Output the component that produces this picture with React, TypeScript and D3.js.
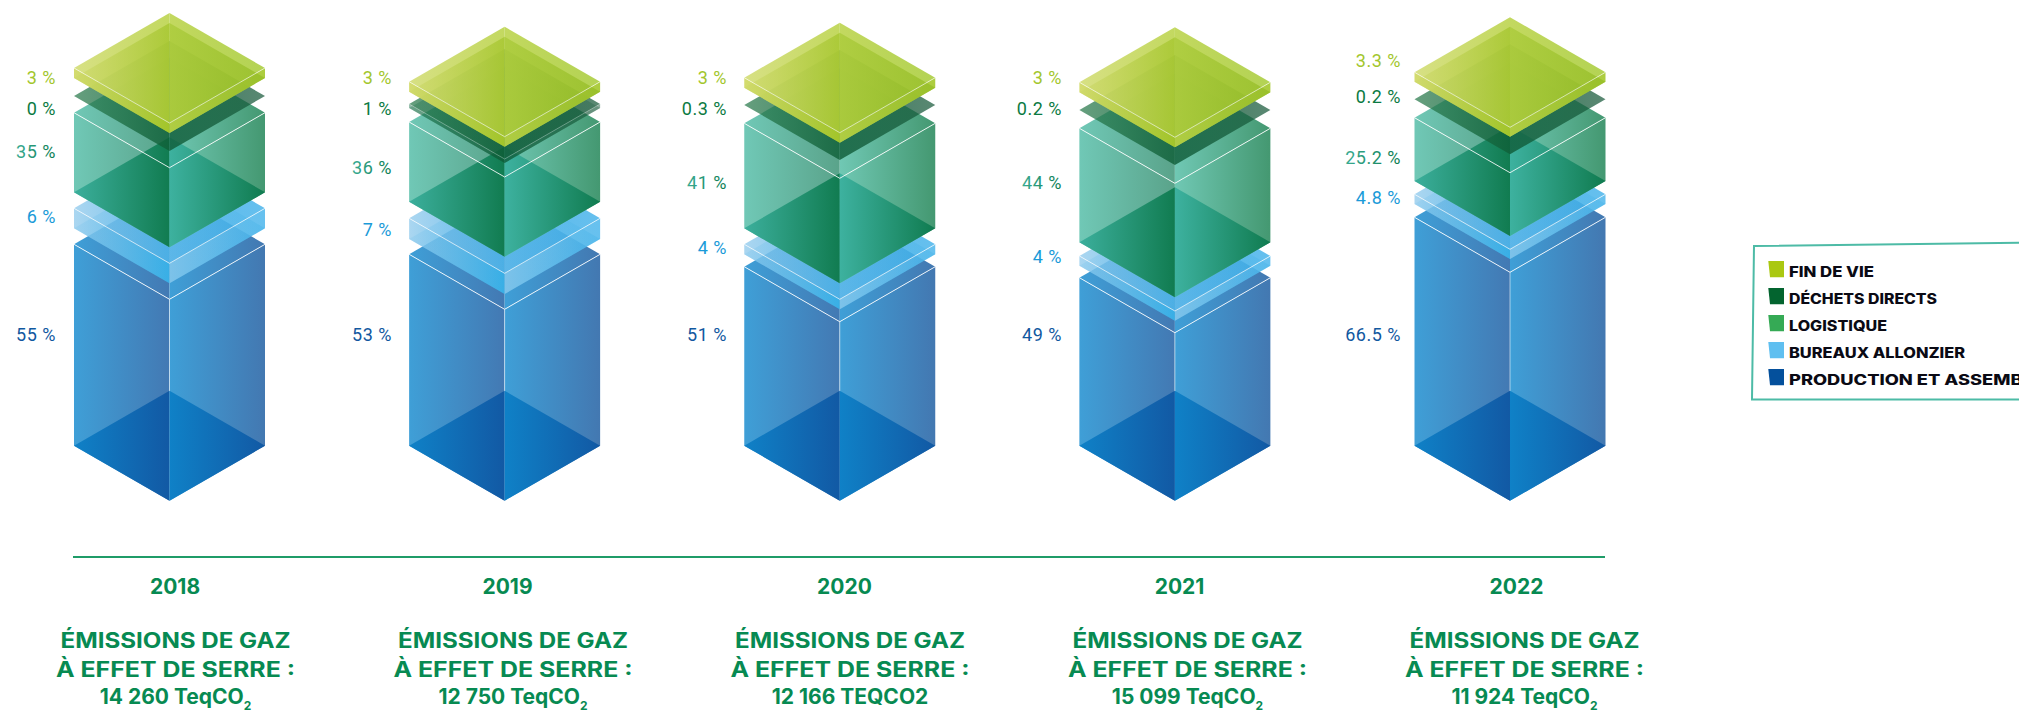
import React from "react";
import * as d3 from "d3";

// ---------- data ----------
const years = ["2018", "2019", "2020", "2021", "2022"];
const totals = ["14 260 TeqCO", "12 750 TeqCO", "12 166 TEQCO2", "15 099 TeqCO", "11 924 TeqCO"];
const hasSub = [true, true, false, true, true];

const limeLabels = ["3 %", "3 %", "3 %", "3 %", "3.3 %"];
const darkLabels = ["0 %", "1 %", "0.3 %", "0.2 %", "0.2 %"];
const greenLabels = ["35 %", "36 %", "41 %", "44 %", "25.2 %"];
const lightLabels = ["6 %", "7 %", "4 %", "4 %", "4.8 %"];
const blueLabels = ["55 %", "53 %", "51 %", "49 %", "66.5 %"];

// drawn elevation of each slab above the floor of the column
const blueBase = [0, 0, 0, 0, 0];
const blueTop = [201.4, 191.4, 179, 168, 228.4];
const lightBase = [217.4, 206.7, 191.4, 180, 241.7];
const lightTop = [237.4, 227.4, 201.4, 189.7, 251.4];
const greenBase = [253.4, 244, 217.4, 203.4, 264.7];
const greenTop = [333, 323.7, 322.4, 317.4, 328];
const darkBase = [349.7, 337.7, 340.7, 335.7, 346.4];
const darkTop = [349.7, 341.7, 340.7, 335.7, 346.4];
const limeBase = [367.7, 354, 358, 353.4, 364];
const limeTop = [377.7, 364, 368, 363.4, 373.4];

const legendNames = ["FIN DE VIE", "DÉCHETS DIRECTS", "LOGISTIQUE", "BUREAUX ALLONZIER", "PRODUCTION ET ASSEMBLAGE"];
const legendColors = ["#aac811", "#03642f", "#35aa55", "#5fbff0", "#04509c"];
const legendWidths = [85, 148, 98, 176, 282];

// ---------- layout ----------
const W = 2019, H = 712;
const floorY = 445.7;
const halfW = 95.5, rise = 55;
const x = d3.scalePoint<string>().domain(years).range([169.5, 1510]);
const y = d3.scaleLinear().domain([0, floorY]).range([floorY, 0]);
const line = d3.line<[number, number]>();

const labelRight = [56, 392, 727, 1062, 1401];
const limeLabelY = [83.5, 84, 84, 84, 66.7];
const darkLabelY = [115, 115, 115, 115, 103];
const greenLabelY = [158, 173.7, 189, 189, 164];
const lightLabelY = [223, 236, 254, 263, 204];
const blueLabelY = [341, 341, 341, 341, 341];
const yearX = [175, 507.5, 844.5, 1179.5, 1516.5];
const textX = [175.5, 513, 850, 1187.5, 1524.5];

type Stop = [string, number];
type Skin = {
  id: string;
  topL: [Stop, Stop]; topR: [Stop, Stop];
  wallL: [Stop, Stop]; wallR: [Stop, Stop];
  floorL: [Stop, Stop]; floorR: [Stop, Stop];
  edge: number; spine: number;
};

const skins: Skin[] = [
  {
    id: "blue",
    topL: [["#3f9fd7", 1], ["#4379b3", 1]], topR: [["#3f9fd7", 1], ["#4378b1", 1]],
    wallL: [["#3f9fd7", 1], ["#4379b3", 1]], wallR: [["#3f9fd7", 1], ["#4378b1", 1]],
    floorL: [["#0f81c7", 1], ["#1259a4", 1]], floorR: [["#0f81c7", 1], ["#1259a4", 1]],
    edge: 0.85, spine: 0.55,
  },
  {
    id: "light",
    topL: [["#8fc9ec", 0.75], ["#56b4e8", 0.92]], topR: [["#4fb2e8", 0.92], ["#3fb0ea", 0.8]],
    wallL: [["#8fc9ec", 0.75], ["#38afe6", 1]], wallR: [["#7cc1e8", 1], ["#4cb6ec", 0.85]],
    floorL: [["#7fc5ec", 0.3], ["#38aee6", 0.3]], floorR: [["#7fc5ec", 0.3], ["#38aee6", 0.3]],
    edge: 0.7, spine: 0,
  },
  {
    id: "green",
    topL: [["#70c8b6", 1], ["#5aa38a", 1]], topR: [["#70c8b4", 1], ["#449871", 1]],
    wallL: [["#70c8b6", 1], ["#5aa38a", 1]], wallR: [["#70c8b4", 1], ["#449871", 1]],
    floorL: [["#38ad9a", 0.94], ["#0e7a4e", 0.96]], floorR: [["#3ab09e", 0.94], ["#0e7a4e", 0.96]],
    edge: 0.85, spine: 0,
  },
  {
    id: "dark",
    topL: [["#2a7a4c", 0.72], ["#0f5f38", 0.82]], topR: [["#0f5c38", 0.82], ["#1a5a3c", 0.72]],
    wallL: [["#1a7048", 0.5], ["#0d5a36", 0.7]], wallR: [["#0d5a36", 0.7], ["#1a5a3c", 0.5]],
    floorL: [["#1a7048", 0.3], ["#0d5a36", 0.3]], floorR: [["#0d5a36", 0.3], ["#1a5a3c", 0.3]],
    edge: 0.3, spine: 0,
  },
  {
    id: "lime",
    topL: [["#d3dd76", 0.9], ["#bcd44e", 0.9]], topR: [["#bcd44e", 0.9], ["#a3c92e", 0.82]],
    wallL: [["#d2da68", 0.95], ["#9dc526", 1]], wallR: [["#c3d665", 1], ["#a8ca35", 0.95]],
    floorL: [["#cdd868", 0.55], ["#a4c52c", 0.75]], floorR: [["#a9ca38", 0.75], ["#92bb22", 0.7]],
    edge: 0.6, spine: 0,
  },
];

const grad = (id: string, s: [Stop, Stop]) => (
  <linearGradient id={id} key={id} x1="0" x2="1" y1="0" y2="0">
    <stop offset="0" stopColor={s[0][0]} stopOpacity={s[0][1]} />
    <stop offset="1" stopColor={s[1][0]} stopOpacity={s[1][1]} />
  </linearGradient>
);

const closed = (pts: [number, number][]) => (line(pts) as string) + "Z";

function Slab({ cx, base, top, skin }: { cx: number; base: number; top: number; skin: Skin }) {
  const xl = cx - halfW, xr = cx + halfW;
  const yT = y(top), yB = y(base);
  const u = skin.id;
  const flat = top === base;
  return (
    <g>
      {!flat && <path d={closed([[xl, yT], [cx, yT + rise], [cx, yB + rise], [xl, yB]])} fill={`url(#${u}-wallL)`} />}
      {!flat && <path d={closed([[cx, yT + rise], [xr, yT], [xr, yB], [cx, yB + rise]])} fill={`url(#${u}-wallR)`} />}
      <path d={closed([[xl, yT], [cx, yT - rise], [cx, yT + rise]])} fill={`url(#${u}-topL)`} />
      <path d={closed([[cx, yT - rise], [xr, yT], [cx, yT + rise]])} fill={`url(#${u}-topR)`} />
      {!flat && skin.spine > 0 && (
        <path d={line([[cx, yT + rise], [cx, yB + rise]]) as string} stroke="#fff" strokeOpacity={skin.spine} strokeWidth={1} fill="none" />
      )}
      {!flat && <path d={closed([[xl, yB], [cx, yB - rise], [cx, yB + rise]])} fill={`url(#${u}-floorL)`} />}
      {!flat && <path d={closed([[cx, yB - rise], [xr, yB], [cx, yB + rise]])} fill={`url(#${u}-floorR)`} />}
      {!flat && (
        <path d={line([[xl, yT], [cx, yT + rise], [xr, yT]]) as string} stroke="#fff" strokeOpacity={skin.edge} strokeWidth={1} fill="none" />
      )}
    </g>
  );
}

const INK = "#078a52";
const HEAD = "Inter, 'Open Sans', sans-serif";
const NUM = "Roboto, 'Noto Sans', sans-serif";

export default function App() {
  const slabs: [number[], number[]][] = [
    [blueBase, blueTop], [lightBase, lightTop], [greenBase, greenTop], [darkBase, darkTop], [limeBase, limeTop],
  ];
  const labelSets: { vals: string[]; ys: number[]; fill: string }[] = [
    { vals: limeLabels, ys: limeLabelY, fill: "#a2c62c" },
    { vals: darkLabels, ys: darkLabelY, fill: "#0b7a42" },
    { vals: greenLabels, ys: greenLabelY, fill: "url(#labelGreen)" },
    { vals: lightLabels, ys: lightLabelY, fill: "#1a9ad8" },
    { vals: blueLabels, ys: blueLabelY, fill: "#11589f" },
  ];
  return (
    <svg width={W} height={H} viewBox={`0 0 ${W} ${H}`} style={{ position: "absolute", left: 0, top: 0, background: "#fff" }}>
      <defs>
        {skins.flatMap((s) => [
          grad(`${s.id}-topL`, s.topL), grad(`${s.id}-topR`, s.topR),
          grad(`${s.id}-wallL`, s.wallL), grad(`${s.id}-wallR`, s.wallR),
          grad(`${s.id}-floorL`, s.floorL), grad(`${s.id}-floorR`, s.floorR),
        ])}
        {grad("labelGreen", [["#3aab92", 1], ["#0e7a4e", 1]])}
      </defs>

      {years.map((yr, i) => (
        <g key={yr}>
          {slabs.map(([b, t], k) => (
            <Slab key={k} cx={x(yr) as number} base={b[i]} top={t[i]} skin={skins[k]} />
          ))}
          {labelSets.map((l, k) => (
            <text key={k} x={labelRight[i]} y={l.ys[i]} textAnchor="end" fontFamily={NUM} fontSize={18} letterSpacing={0.5} fill={l.fill}>
              {l.vals[i]}
            </text>
          ))}
          <text x={yearX[i]} y={594} textAnchor="middle" fontFamily={HEAD} fontWeight={700} fontSize={21} fill={INK}>{yr}</text>
          <g fontFamily={HEAD} fontWeight={700} fontSize={21} fill={INK} textAnchor="middle">
            <text x={textX[i]} y={648} textLength={230} lengthAdjust="spacingAndGlyphs">ÉMISSIONS DE GAZ</text>
            <text x={textX[i]} y={677} textLength={239} lengthAdjust="spacingAndGlyphs">À EFFET DE SERRE :</text>
            <text x={textX[i]} y={704}>
              {totals[i]}
              {hasSub[i] && <tspan fontSize={12} dy={6}>2</tspan>}
            </text>
          </g>
        </g>
      ))}

      <path d={line([[73, 557], [1605, 557]]) as string} stroke="#1f9c68" strokeWidth={2} fill="none" />

      <path d={closed([[1754, 246], [2030, 242.5], [2030, 399.5], [1752, 399.5]])} fill="#fff" stroke="#4dbba6" strokeWidth={2} />
      {legendNames.map((n, i) => {
        const top = 261 + i * 27;
        return (
          <g key={n}>
            <path d={closed([[1768.3, top], [1784, top], [1784, top + 16.3], [1770, top + 16.3]])} fill={legendColors[i]} />
            <text x={1789} y={top + 16} fontFamily={HEAD} fontWeight={800} fontSize={14} fill="#0a0a14" textLength={legendWidths[i]} lengthAdjust="spacingAndGlyphs">{n}</text>
          </g>
        );
      })}
    </svg>
  );
}
